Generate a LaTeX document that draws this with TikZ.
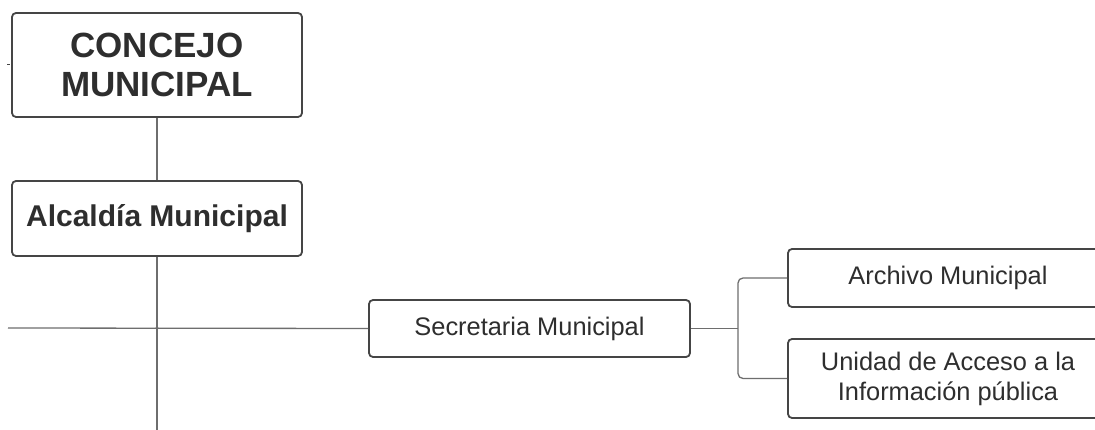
\documentclass[tikz,border=0pt]{standalone}
\usepackage{fontspec}
\setmainfont{Liberation Sans}
\begin{document}
\begin{tikzpicture}[x=1pt,y=-1pt,
  box/.style={draw=boxgray,line width=1.8pt,rounded corners=4pt,fill=white,inner sep=0pt,text=textgray,align=center},
  conn/.style={draw=linegray,line width=1.3pt}]
\definecolor{boxgray}{HTML}{454545}
\definecolor{linegray}{HTML}{6E6E6E}
\definecolor{textgray}{HTML}{2E2E2E}
\useasboundingbox (0,0) rectangle (1095,430);
\clip (0,0) rectangle (1095,430);
\fill[white] (0,0) rectangle (1095,430);
% connectors
\coordinate (trunkbot) at (157,432);
\coordinate (left) at (8,328);
\coordinate (cross) at (157,328);
\node[box,minimum width=290pt,minimum height=104pt,font=\fontsize{35}{39}\selectfont\bfseries] (concejo) at (157,65) {CONCEJO\\MUNICIPAL};
\node[box,minimum width=290pt,minimum height=75pt,font=\fontsize{30}{34}\selectfont\bfseries] (alcaldia) at (157,218.5) {Alcald\'ia Municipal};
\node[box,minimum width=321pt,minimum height=57pt,font=\fontsize{25.4}{30}\selectfont] (secre) at (529.5,328.5) {Secretaria Municipal};
\node[box,minimum width=320pt,minimum height=58pt,font=\fontsize{25.4}{30}\selectfont] (archivo) at (948,278) {Archivo Municipal};
\node[box,minimum width=320pt,minimum height=79pt,font=\fontsize{25.4}{30}\selectfont] (unidad) at (948,378.5) {Unidad de Acceso a la\\Informaci\'on p\'ublica};
\coordinate (fork) at (738,328.5);
\begin{scope}[on background layer/.try]
\end{scope}
\draw[conn] (concejo.south) -- (alcaldia.north);
\draw[conn] (alcaldia.south) -- (trunkbot);
\draw[conn] (left) -- (secre.west);
\fill[linegray] (cross) circle (1.6pt);
\draw[conn] (secre.east) -- (fork);
\draw[conn,rounded corners=5pt] (archivo.west) -| (fork) |- (unidad.west);
\draw[boxgray,line width=1pt] (7,65) -- (10,65);
\end{tikzpicture}
\end{document}
